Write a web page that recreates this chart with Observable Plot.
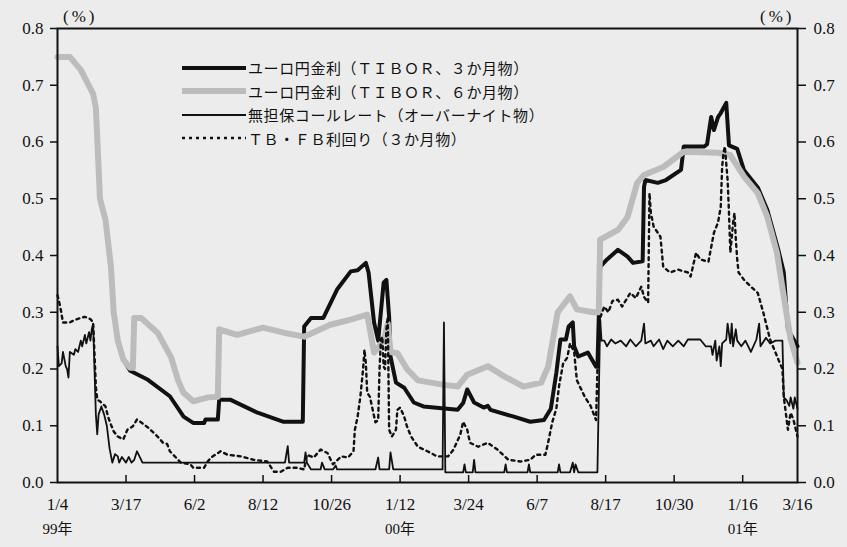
<!DOCTYPE html>
<html><head><meta charset="utf-8">
<script src="https://cdn.jsdelivr.net/npm/d3@7"></script>
<script src="https://cdn.jsdelivr.net/npm/@observablehq/plot@0.6"></script>
<style>
html,body{margin:0;padding:0;background:#ececec;}
#wrap{position:relative;width:847px;height:547px;overflow:hidden;}
#legend{position:absolute;left:182px;top:56px;font-family:"Noto Sans CJK JP",sans-serif;font-size:15px;letter-spacing:0.6px;color:#111;}
.row{display:flex;align-items:center;height:23.5px;white-space:nowrap;}
.row svg{width:64px;height:10px;margin-right:2px;flex:none;}
.unit{position:absolute;top:7px;font-family:"Liberation Serif","DejaVu Serif",serif;font-size:17px;letter-spacing:3px;color:#111;}
svg text{font-family:"Liberation Serif","DejaVu Serif","Noto Sans CJK JP",serif;}
</style></head><body>
<div id="wrap"><div id="chart"></div>
<div class="unit" style="left:63px">(%)</div>
<div class="unit" style="left:760px">(%)</div>
<div id="legend"></div>
</div>
<script>
// x = business-day index from 1999/1/4; y = percent
const tibor3m = [[0,0.75],[9,0.75],[17,0.727],[26,0.685],[28,0.66],[31,0.50],[35,0.463],[39,0.38],[41,0.30],[44,0.25],[48,0.217],[53,0.197],[66,0.181],[82,0.152],[92,0.116],[99,0.105],[107,0.105],[108,0.111],[117,0.111],[118,0.146],[126,0.146],[146,0.123],[165,0.107],[179,0.107],[180,0.275],[185,0.29],[194,0.29],[204,0.34],[214,0.372],[219,0.374],[225,0.387],[227,0.37],[231,0.282],[234,0.25],[238,0.352],[240,0.357],[242,0.292],[243,0.222],[247,0.176],[253,0.167],[260,0.141],[267,0.134],[292,0.128],[296,0.14],[299,0.164],[304,0.141],[311,0.132],[314,0.135],[316,0.128],[333,0.116],[345,0.107],[355,0.11],[360,0.13],[364,0.193],[367,0.252],[371,0.252],[373,0.275],[376,0.282],[377,0.24],[380,0.222],[387,0.229],[393,0.204],[394,0.204],[396,0.38],[401,0.393],[409,0.41],[416,0.398],[420,0.387],[427,0.39],[428,0.521],[429,0.533],[438,0.528],[444,0.533],[455,0.551],[457,0.592],[472,0.592],[474,0.596],[477,0.644],[479,0.621],[482,0.644],[484,0.651],[488,0.669],[490,0.594],[496,0.588],[501,0.55],[511,0.52],[518,0.48],[526,0.41],[530,0.37],[533,0.27],[540,0.24]];
const tibor6m = [[0,0.75],[9,0.75],[17,0.727],[26,0.685],[28,0.66],[31,0.50],[35,0.463],[39,0.38],[41,0.30],[44,0.25],[48,0.217],[53,0.202],[55,0.202],[56,0.29],[61,0.29],[73,0.264],[83,0.22],[88,0.18],[92,0.158],[99,0.143],[110,0.15],[117,0.151],[118,0.27],[131,0.26],[150,0.273],[165,0.264],[180,0.257],[199,0.278],[214,0.287],[226,0.296],[231,0.229],[238,0.25],[241,0.28],[243,0.23],[248,0.228],[255,0.2],[263,0.18],[282,0.172],[292,0.169],[299,0.19],[314,0.205],[326,0.187],[340,0.169],[353,0.176],[358,0.204],[365,0.3],[374,0.328],[379,0.305],[391,0.30],[395,0.30],[396,0.428],[409,0.445],[416,0.468],[423,0.528],[428,0.542],[442,0.556],[457,0.583],[482,0.581],[491,0.577],[501,0.539],[511,0.51],[518,0.468],[525,0.405],[530,0.328],[535,0.252],[540,0.211]];
const callRate = [[0,0.24],[1,0.205],[3,0.21],[4,0.23],[6,0.205],[7,0.2],[8,0.185],[9,0.23],[12,0.225],[13,0.235],[15,0.23],[17,0.25],[18,0.24],[20,0.26],[21,0.245],[23,0.265],[24,0.25],[25,0.27],[26,0.28],[27,0.2],[28,0.12],[29,0.085],[30,0.12],[32,0.134],[34,0.12],[36,0.1],[38,0.06],[40,0.035],[42,0.05],[44,0.046],[45,0.035],[47,0.045],[50,0.035],[52,0.045],[54,0.035],[56,0.04],[58,0.055],[60,0.045],[62,0.035],[166,0.035],[168,0.064],[169,0.035],[180,0.035],[181,0.053],[182,0.035],[185,0.023],[192,0.023],[193,0.035],[195,0.023],[201,0.023],[203,0.03],[204,0.023],[232,0.023],[234,0.044],[235,0.023],[242,0.023],[243,0.053],[245,0.023],[281,0.023],[282,0.282],[283,0.018],[296,0.018],[297,0.032],[298,0.018],[303,0.018],[304,0.04],[305,0.018],[326,0.018],[327,0.032],[328,0.018],[343,0.018],[344,0.032],[345,0.018],[365,0.018],[366,0.032],[367,0.018],[374,0.018],[376,0.035],[377,0.018],[378,0.032],[380,0.018],[394,0.018],[396,0.287],[397,0.25],[399,0.25],[401,0.24],[404,0.252],[407,0.245],[411,0.25],[415,0.24],[418,0.252],[422,0.24],[426,0.25],[428,0.28],[429,0.245],[433,0.25],[435,0.24],[439,0.252],[442,0.235],[445,0.25],[449,0.24],[453,0.25],[457,0.24],[460,0.252],[469,0.252],[473,0.24],[477,0.24],[478,0.225],[480,0.25],[481,0.215],[483,0.24],[484,0.205],[485,0.245],[488,0.252],[489,0.28],[491,0.245],[492,0.28],[493,0.24],[495,0.27],[496,0.25],[499,0.24],[502,0.25],[506,0.23],[510,0.252],[512,0.28],[513,0.24],[517,0.255],[520,0.245],[524,0.25],[529,0.25],[530,0.15],[532,0.145],[534,0.135],[535,0.15],[537,0.13],[538,0.15],[540,0.13]];
const tbfb = [[0,0.33],[2,0.31],[4,0.282],[9,0.282],[13,0.287],[17,0.29],[20,0.292],[24,0.288],[26,0.282],[28,0.169],[29,0.146],[31,0.143],[35,0.134],[37,0.115],[39,0.102],[41,0.09],[44,0.081],[48,0.076],[51,0.093],[55,0.099],[58,0.111],[61,0.106],[66,0.097],[73,0.081],[77,0.07],[80,0.068],[82,0.055],[88,0.04],[90,0.035],[97,0.032],[99,0.026],[107,0.026],[109,0.035],[112,0.044],[119,0.055],[124,0.049],[134,0.046],[143,0.04],[153,0.037],[158,0.019],[163,0.019],[168,0.026],[175,0.026],[180,0.023],[182,0.049],[187,0.044],[192,0.058],[197,0.052],[201,0.032],[207,0.046],[212,0.044],[216,0.055],[217,0.093],[219,0.116],[221,0.151],[223,0.2],[224,0.234],[225,0.211],[226,0.158],[228,0.151],[230,0.128],[232,0.106],[234,0.11],[235,0.2],[236,0.252],[237,0.257],[238,0.204],[239,0.2],[240,0.27],[241,0.292],[242,0.093],[244,0.081],[247,0.093],[248,0.128],[250,0.132],[253,0.116],[255,0.099],[258,0.081],[263,0.063],[270,0.055],[277,0.046],[285,0.046],[289,0.058],[294,0.085],[296,0.107],[299,0.093],[301,0.07],[307,0.063],[314,0.07],[321,0.058],[329,0.04],[338,0.037],[345,0.04],[349,0.049],[356,0.049],[358,0.07],[361,0.106],[364,0.13],[366,0.17],[369,0.21],[372,0.22],[374,0.245],[377,0.23],[379,0.18],[382,0.165],[385,0.15],[389,0.135],[393,0.11],[394,0.2],[396,0.29],[399,0.31],[402,0.3],[405,0.32],[409,0.322],[412,0.31],[418,0.334],[422,0.325],[426,0.345],[428,0.327],[431,0.317],[432,0.51],[433,0.475],[435,0.451],[440,0.433],[442,0.38],[447,0.37],[453,0.375],[460,0.37],[462,0.363],[466,0.405],[469,0.393],[475,0.389],[479,0.44],[482,0.458],[484,0.486],[485,0.556],[486,0.581],[487,0.592],[489,0.533],[490,0.475],[491,0.405],[493,0.458],[494,0.475],[495,0.428],[496,0.393],[497,0.37],[501,0.357],[506,0.345],[511,0.334],[515,0.3],[520,0.252],[526,0.217],[529,0.2],[530,0.151],[533,0.093],[535,0.123],[537,0.111],[540,0.081]];

const seriesNames = ["ユーロ円金利（ＴＩＢＯＲ、３か月物）","ユーロ円金利（ＴＩＢＯＲ、６か月物）","無担保コールレート（オーバーナイト物）","ＴＢ・ＦＢ利回り（３か月物）"];
const xTickIndex = [0,50,100,150,200,250,300,350,400,450,500,540];
const xTickLabels = ["1/4","3/17","6/2","8/12","10/26","1/12","3/24","6/7","8/17","10/30","1/16","3/16"];
const yearIndex = [0,250,500];
const yearLabels = ["99年","00年","01年"];
const yTicks = [0,0.1,0.2,0.3,0.4,0.5,0.6,0.7,0.8];

const styles = [
  {stroke:"#111", strokeWidth:4},
  {stroke:"#bcbcbc", strokeWidth:6},
  {stroke:"#111", strokeWidth:1.8},
  {stroke:"#111", strokeWidth:2.4, strokeDasharray:"3,4"}
];
const rows = (arr) => arr.map(([i, v]) => ({i, v}));
const years = yearIndex.map((i, k) => ({i, label: yearLabels[k]}));
const serif = '"Liberation Serif","DejaVu Serif","Noto Sans CJK JP",serif';

const chart = Plot.plot({
  width: 847, height: 547,
  marginLeft: 57, marginRight: 50, marginTop: 28, marginBottom: 65,
  style: {background: "transparent", fontFamily: serif, fontSize: "17px", color: "#111"},
  x: {domain: [0, 540]},
  y: {domain: [0, 0.8]},
  marks: [
    Plot.line(rows(tibor3m), {x: "i", y: "v", ...styles[0]}),
    Plot.line(rows(tibor6m), {x: "i", y: "v", ...styles[1]}),
    Plot.line(rows(tbfb), {x: "i", y: "v", ...styles[3]}),
    Plot.line(rows(callRate), {x: "i", y: "v", ...styles[2]}),
    Plot.ruleX(xTickIndex.slice(1, -1), {insetTop: 447, stroke: "#111", strokeWidth: 1.5}),
    Plot.frame({stroke: "#111", strokeWidth: 2}),
    Plot.axisY({anchor: "left", ticks: yTicks, tickSize: 7, tickPadding: 7, strokeWidth: 1.5, tickFormat: d => d.toFixed(1), label: null, fontSize: 17, fontFamily: serif, letterSpacing: "2px"}),
    Plot.axisY({anchor: "right", ticks: yTicks, tickSize: 8, tickPadding: 8, strokeWidth: 1.5, tickFormat: d => d.toFixed(1), label: null, fontSize: 17, fontFamily: serif, letterSpacing: "2px"}),
    Plot.axisX({ticks: xTickIndex, tickSize: 0, tickPadding: 15, tickFormat: d => xTickLabels[xTickIndex.indexOf(d)], label: null, fontSize: 17, fontFamily: serif, letterSpacing: "1px"}),
    Plot.text(years, {x: "i", text: "label", frameAnchor: "bottom", dy: 51, fontSize: 15, fontFamily: serif})
  ]
});
document.getElementById("chart").appendChild(chart);

const legend = document.getElementById("legend");
seriesNames.forEach((name, k) => {
  const s = styles[k];
  const row = document.createElement("div");
  row.className = "row";
  row.innerHTML = `<svg viewBox="0 0 64 10"><line x1="0" y1="5" x2="64" y2="5" stroke="${s.stroke}" stroke-width="${s.strokeWidth}" ${s.strokeDasharray ? `stroke-dasharray="${s.strokeDasharray}"` : ""}/></svg><span>${name}</span>`;
  legend.appendChild(row);
});
</script>
</body></html>
